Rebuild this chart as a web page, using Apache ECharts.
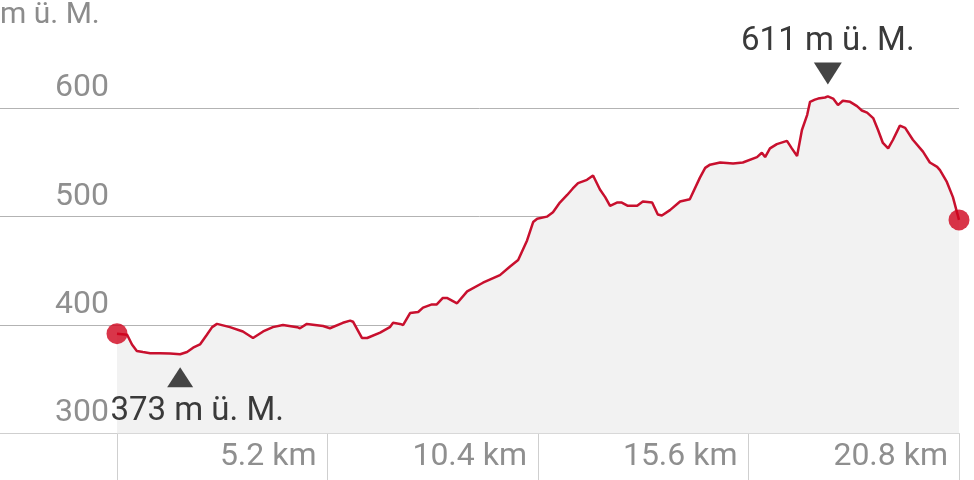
<!DOCTYPE html>
<html><head><meta charset="utf-8">
<script src="https://cdn.jsdelivr.net/npm/echarts@6/dist/echarts.min.js"></script>
<style>html,body{margin:0;padding:0;background:#fff}#c{width:974px;height:480px}</style>
</head><body><div id="c"></div>
<script>
const distanceKm = [0,0.25,0.37,0.49,0.64,0.82,1.06,1.31,1.56,1.73,1.88,2.05,2.22,2.35,2.47,2.79,3.11,3.36,3.61,3.85,4.10,4.45,4.52,4.69,5.09,5.26,5.58,5.76,5.83,6.05,6.18,6.50,6.74,6.82,6.99,7.07,7.24,7.44,7.56,7.78,7.90,8.05,8.15,8.40,8.65,9.04,9.46,9.71,9.91,10.13,10.28,10.38,10.62,10.77,10.94,11.12,11.26,11.39,11.61,11.76,11.93,12.06,12.18,12.35,12.47,12.62,12.85,12.99,13.22,13.36,13.46,13.66,13.91,14.15,14.40,14.53,14.65,14.90,15.22,15.46,15.81,15.93,16.01,16.13,16.30,16.55,16.67,16.80,16.92,17.05,17.12,17.24,17.32,17.49,17.56,17.69,17.81,17.93,18.11,18.28,18.40,18.53,18.68,18.80,18.92,19.05,19.17,19.34,19.47,19.66,19.91,20.08,20.26,20.33,20.50,20.65,20.80];
const elevationM = [392,391,382,376,375,374,374,373.6,373,375,379,382,391,398,401,398,394,388,394,398,400,398,397,401,399,397,402,404,403,388,388,393,398,402,401,400,411,412,416,419,419,425,425,420,431,439,446,454,460,478,495,498,500,504,513,520,526,531,534,538,525,518,510,513,513,510,510,514,513,502,501,506,514,516,536,545,548,550,549,550,555,559,555,563,567,570,563,556,580,594,606,608,609,610,611,609,603,607,606,602,598,596,591,580,568,563,571,584,582,571,560,550,546,543,532,518,497];
const xTickValues = [0, 5.2, 10.4, 15.6, 20.8];
const xLabelValues = [5.2, 10.4, 15.6, 20.8];
const yTickValues = [300, 400, 500, 600];
const unitLabel = 'm ü. M.';

const chart = echarts.init(document.getElementById('c'), null, {renderer: 'canvas'});
const lineData = distanceKm.map((d, i) => [d, elevationM[i]]);
const last = lineData.length - 1;
const xMax = 20.8;
const xMin = -117 / (842 / xMax);
const FONT = 'Roboto';
const fmtElev = p => Math.round(p.value) + ' ' + unitLabel;

chart.setOption({
  animation: false,
  title: {
    text: unitLabel, left: 0, top: 0, padding: 0,
    textStyle: {fontFamily: FONT, fontSize: 30, fontWeight: 'normal', color: '#8c8c8c'}
  },
  grid: {left: 0, right: 15, top: 0, bottom: 46.7, containLabel: false},
  xAxis: {
    type: 'value', min: xMin, max: xMax,
    axisLine: {show: true, lineStyle: {color: '#cfcfcf', width: 1}},
    axisTick: {show: true, customValues: xTickValues, length: 47, lineStyle: {color: '#cfcfcf', width: 1}},
    axisLabel: {
      customValues: xLabelValues, formatter: v => v.toFixed(1) + ' km',
      align: 'right', verticalAlign: 'middle', margin: 24, padding: [0, 11, 0, 0],
      fontFamily: FONT, fontSize: 32, color: '#8f8f8f'
    },
    splitLine: {show: false}
  },
  yAxis: {
    type: 'value', min: 300, max: 700,
    axisLine: {show: false},
    axisTick: {show: false, customValues: yTickValues},
    axisLabel: {
      customValues: yTickValues, inside: true, align: 'right', verticalAlign: 'bottom',
      margin: 109, padding: [0, 0, 4, 0], fontFamily: FONT, fontSize: 32, color: '#8f8f8f'
    },
    splitLine: {show: true, lineStyle: {color: '#b3b3b3', width: 1}}
  },
  series: [
    {
      type: 'line', data: lineData, showSymbol: false, symbol: 'none',
      lineStyle: {color: '#c8102e', width: 2.5},
      areaStyle: {color: '#f2f2f2', origin: 'start', opacity: 1},
      z: 2,
      markPoint: {
        silent: true,
        itemStyle: {color: '#444444'},
        label: {fontFamily: FONT, fontSize: 33, color: '#3a3a3a', formatter: fmtElev},
        data: [
          {type: 'max', valueIndex: 1, symbol: 'path://M0,0 L28,0 L14,22 Z', symbolSize: [28, 22],
           symbolOffset: [0, -23], label: {position: 'top', distance: 4}},
          {type: 'min', valueIndex: 1, symbol: 'triangle', symbolSize: [26, 20],
           symbolOffset: [0, 23], label: {position: 'bottom', distance: 8, offset: [17, 0]}}
        ]
      }
    },
    {
      type: 'scatter', data: [lineData[0], lineData[last]], symbolSize: 21,
      itemStyle: {color: '#d0021b'}, z: 3, silent: true
    }
  ]
});
</script>
</body></html>
